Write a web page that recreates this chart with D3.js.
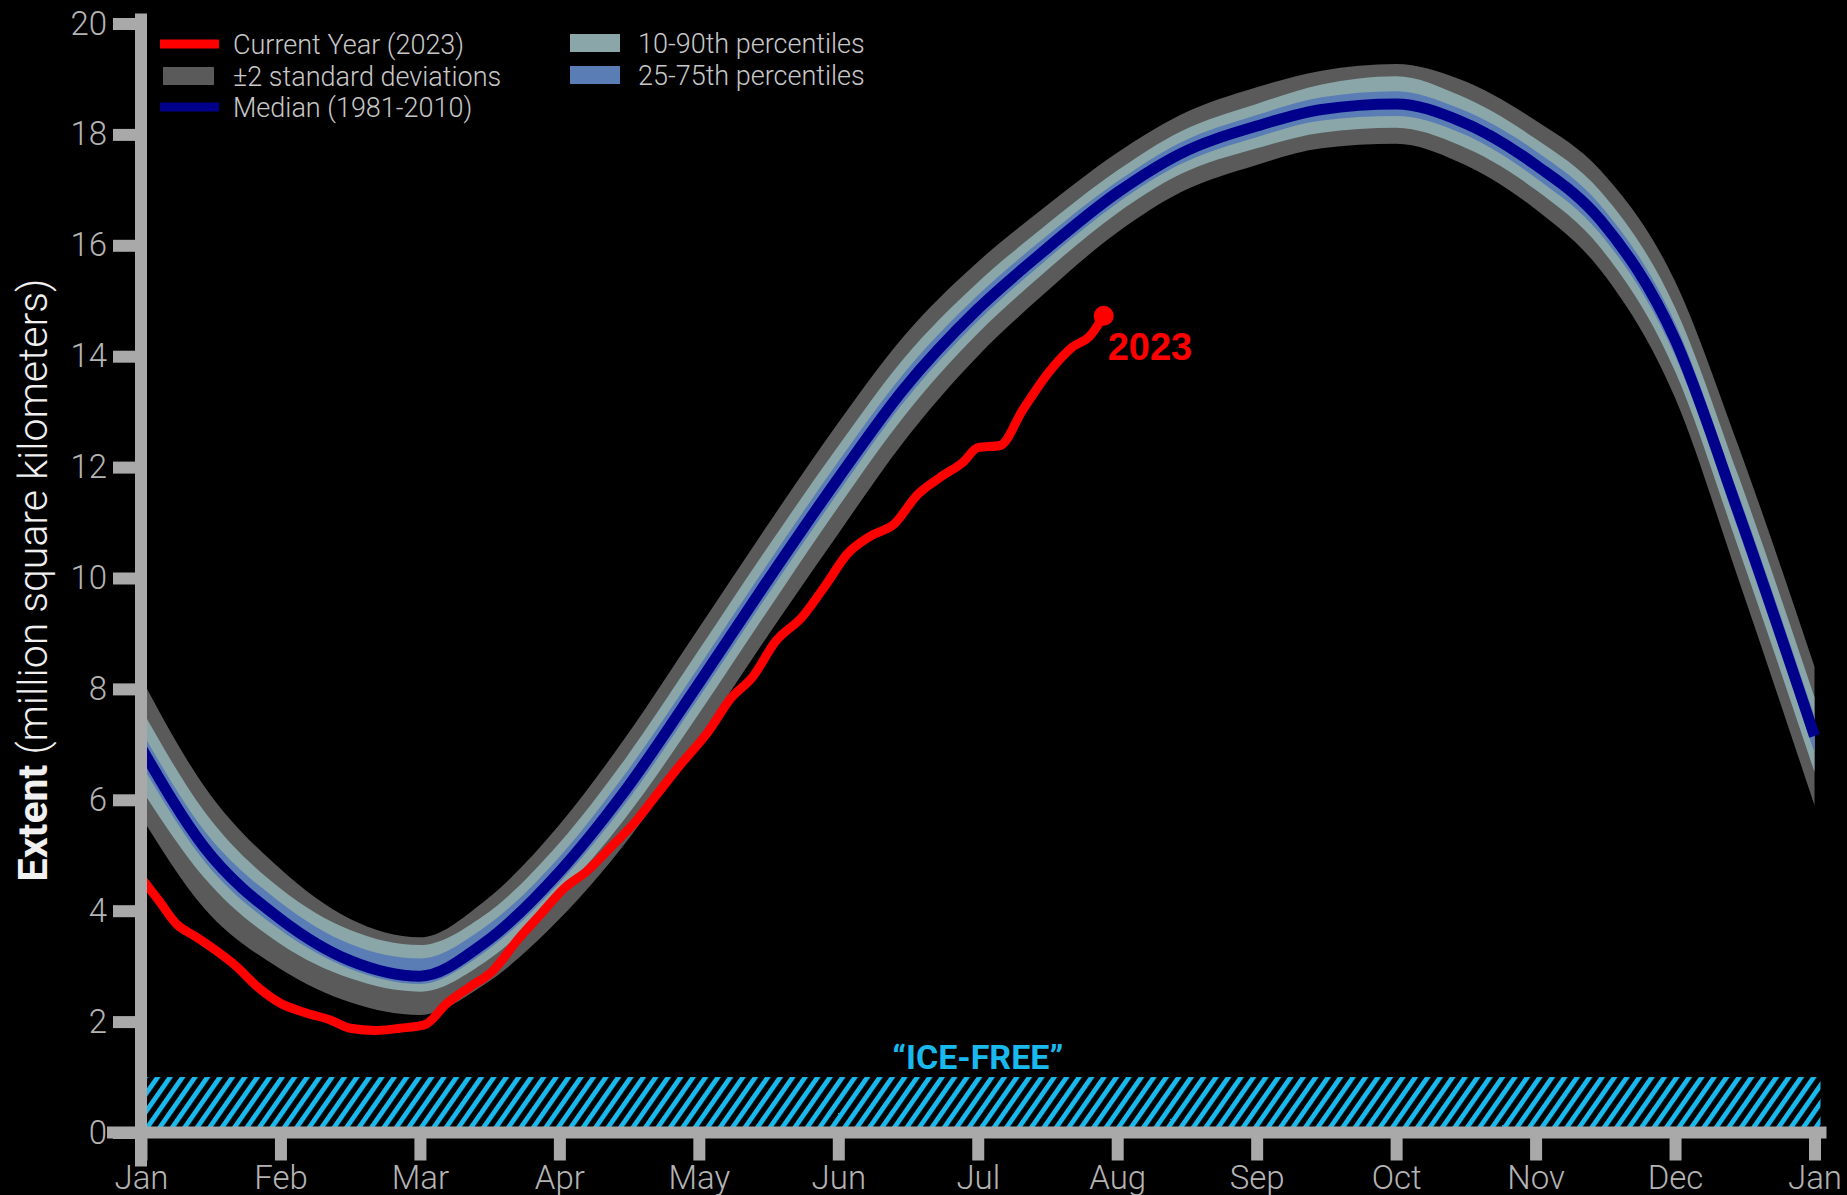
<!DOCTYPE html>
<html>
  <head>
    <meta charset="utf-8">
    <title>Sea Ice Extent</title>
    <script src="https://cdn.jsdelivr.net/npm/d3@7"></script>
    <style>
      body { margin: 0; background: #000; }
      .tick text { font-family: 'Roboto', sans-serif; font-weight: 300; fill: #b4b4b4; font-size: 33px; }
      .legend text { font-family: 'Roboto', sans-serif; font-weight: 300; fill: #c8c8c8; font-size: 27px; }
    </style>
  </head>
  <body>
    <script>

      // climatology sample dates (1981-2010)
      var climDates = ["2023-01-01", "2023-01-15", "2023-02-01", "2023-02-15", "2023-03-01", "2023-03-15",
                       "2023-04-01", "2023-04-15", "2023-05-01", "2023-05-15", "2023-06-01", "2023-06-15",
                       "2023-07-01", "2023-07-15", "2023-08-01", "2023-08-15", "2023-09-01", "2023-09-15",
                       "2023-10-01", "2023-10-15", "2023-11-01", "2023-11-15", "2023-12-01", "2023-12-15", "2024-01-01"];

      var median = [6.95, 5.15, 3.85, 3.1, 2.82, 3.4, 4.7, 6.15, 8.1, 9.8, 11.8, 13.4, 14.85, 15.85, 16.95, 17.65, 18.15, 18.45, 18.55, 18.25, 17.45, 16.45, 14.3, 11.2, 7.15];
      var sdHi   = [8.2, 6.25, 4.75, 3.85, 3.52, 4.15, 5.55, 7.1, 9.1, 10.8, 12.8, 14.35, 15.7, 16.63, 17.67, 18.35, 18.85, 19.15, 19.27, 19.0, 18.25, 17.35, 15.35, 12.4, 8.4];
      var sdLo   = [5.7, 4.05, 2.95, 2.35, 2.12, 2.65, 3.85, 5.2, 7.1, 8.8, 10.8, 12.45, 14.0, 15.07, 16.23, 16.95, 17.45, 17.75, 17.83, 17.5, 16.65, 15.55, 13.25, 10.0, 5.9];
      var p90    = [7.65, 5.8, 4.4, 3.65, 3.38, 3.9, 5.22, 6.72, 8.7, 10.4, 12.38, 13.95, 15.33, 16.29, 17.35, 18.05, 18.55, 18.9, 19.05, 18.71, 17.92, 16.97, 14.88, 11.86, 7.85];
      var p10    = [6.2, 4.6, 3.4, 2.78, 2.54, 3.05, 4.28, 5.65, 7.55, 9.25, 11.28, 12.9, 14.41, 15.45, 16.58, 17.28, 17.75, 18.03, 18.12, 17.81, 17.0, 15.95, 13.73, 10.56, 6.5];
      var p75    = [7.25, 5.45, 4.15, 3.4, 3.14, 3.68, 4.97, 6.45, 8.4, 10.1, 12.1, 13.68, 15.1, 16.08, 17.15, 17.85, 18.35, 18.67, 18.78, 18.47, 17.7, 16.72, 14.6, 11.53, 7.5];
      var p25    = [6.65, 4.9, 3.65, 2.95, 2.68, 3.23, 4.5, 5.91, 7.84, 9.54, 11.54, 13.16, 14.63, 15.65, 16.76, 17.46, 17.95, 18.25, 18.33, 18.04, 17.22, 16.2, 14.01, 10.88, 6.85];

      // 2023 extent
      var dates2023 = ["2023-01-01", "2023-01-05", "2023-01-09", "2023-01-13", "2023-01-17", "2023-01-22", "2023-01-27",
                       "2023-02-01", "2023-02-06", "2023-02-11", "2023-02-15", "2023-02-20", "2023-02-25",
                       "2023-03-02", "2023-03-07", "2023-03-12", "2023-03-17", "2023-03-23", "2023-03-28",
                       "2023-04-02", "2023-04-07", "2023-04-12", "2023-04-17", "2023-04-22", "2023-04-27",
                       "2023-05-03", "2023-05-08", "2023-05-13", "2023-05-18", "2023-05-24", "2023-05-29",
                       "2023-06-03", "2023-06-08", "2023-06-13", "2023-06-18", "2023-06-23", "2023-06-28",
                       "2023-07-01", "2023-07-06", "2023-07-11", "2023-07-17", "2023-07-22", "2023-07-26", "2023-07-29"];
      var ext2023  = [4.60, 4.18, 3.75, 3.54, 3.32, 3.01, 2.62, 2.33, 2.16, 2.03, 1.88, 1.84, 1.88, 1.94, 2.33, 2.62, 2.90, 3.50, 3.95, 4.40, 4.72, 5.14, 5.57, 6.10, 6.63, 7.22, 7.82, 8.22, 8.85, 9.30, 9.85, 10.44, 10.76, 10.97, 11.50, 11.82, 12.1, 12.35, 12.39, 13.03, 13.73, 14.16, 14.37, 14.73];

      var months = ["Jan", "Feb", "Mar", "Apr", "May", "Jun", "Jul", "Aug", "Sep", "Oct", "Nov", "Dec", "Jan"];
      var yTicks = [0, 2, 4, 6, 8, 10, 12, 14, 16, 18, 20];
      var iceFree = [0, 1];

      var legend1 = ["Current Year (2023)", "\u00b12 standard deviations", "Median (1981-2010)"];
      var legend2 = ["10-90th percentiles", "25-75th percentiles"];

      var width = 1847, height = 1195;
      var padL = 141, padR = 1814.5, padT = 23.5, padB = 1132.5;

      var c = {
        sd: "#5a5a5a", p1090: "#8aa6a8", p2575: "#5a7db6", median: "#00008b",
        red: "#ff0000", axis: "#a9a9a9", ice: "#19b9ee"
      };

      var svg = d3.select("body").append("svg")
        .attr("width", width)
        .attr("height", height)
        .style("background", "#000");

      var parse = d3.timeParse("%Y-%m-%d");

      // every month gets the same width on this chart
      function monthPos(s) {
        var d = parse(s);
        var m0 = d3.timeMonth.floor(d), m1 = d3.timeMonth.offset(m0, 1);
        return (d.getFullYear() - 2023) * 12 + d.getMonth() + (d - m0) / (m1 - m0);
      }

      var x = d3.scaleLinear()
        .domain([0, 12])
        .range([padL, padR]);

      var y = d3.scaleLinear()
        .domain([0, 20])
        .range([padB, padT]);

      // hatch pattern for the ice-free band
      var defs = svg.append("defs");
      var pat = defs.append("pattern")
        .attr("id", "hatch")
        .attr("patternUnits", "userSpaceOnUse")
        .attr("width", 10.2)
        .attr("height", 20)
        .attr("patternTransform", "rotate(35)");
      pat.append("rect")
        .attr("width", 4.8)
        .attr("height", 20)
        .attr("fill", c.ice);

      var clim = climDates.map(function(d, i) {
        return { m: monthPos(d), med: median[i], sdHi: sdHi[i], sdLo: sdLo[i],
                 p90: p90[i], p10: p10[i], p75: p75[i], p25: p25[i] };
      });

      function band(hi, lo) {
        return d3.area()
          .curve(d3.curveMonotoneX)
          .x(function(d) { return x(d.m); })
          .y0(function(d) { return y(d[lo]); })
          .y1(function(d) { return y(d[hi]); });
      }

      svg.append("path").datum(clim).attr("d", band("sdHi", "sdLo")).attr("fill", c.sd);
      svg.append("path").datum(clim).attr("d", band("p90", "p10")).attr("fill", c.p1090);
      svg.append("path").datum(clim).attr("d", band("p75", "p25")).attr("fill", c.p2575);

      svg.append("path").datum(clim)
        .attr("d", d3.line().curve(d3.curveMonotoneX)
          .x(function(d) { return x(d.m); })
          .y(function(d) { return y(d.med); }))
        .attr("fill", "none")
        .attr("stroke", c.median)
        .attr("stroke-width", 11);

      // ice-free band
      svg.append("rect")
        .attr("x", x(0) + 6)
        .attr("y", y(iceFree[1]))
        .attr("width", x(12) - x(0))
        .attr("height", y(iceFree[0]) - y(iceFree[1]))
        .attr("fill", "url(#hatch)");

      svg.append("text")
        .attr("x", x(6))
        .attr("y", y(iceFree[1]) - 8)
        .attr("text-anchor", "middle")
        .style("font-family", "'Liberation Sans Narrow', 'Roboto', sans-serif")
        .style("font-weight", "bold")
        .style("font-size", "34px")
        .style("fill", c.ice)
        .text("\u201cICE-FREE\u201d");

      // 2023 line
      var cur = dates2023.map(function(d, i) { return { m: monthPos(d), v: ext2023[i] }; });
      svg.append("path").datum(cur)
        .attr("d", d3.line().curve(d3.curveMonotoneX)
          .x(function(d) { return x(d.m); })
          .y(function(d) { return y(d.v); }))
        .attr("fill", "none")
        .attr("stroke", c.red)
        .attr("stroke-width", 9)
        .attr("stroke-linejoin", "round");

      var last = cur[cur.length - 1];
      svg.append("circle")
        .attr("cx", x(last.m))
        .attr("cy", y(last.v))
        .attr("r", 10)
        .attr("fill", c.red);

      svg.append("text")
        .attr("x", x(last.m) + 4)
        .attr("y", y(last.v) + 44)
        .style("font-family", "'Liberation Sans', Arial, sans-serif")
        .style("font-weight", "bold")
        .style("font-size", "38px")
        .style("fill", c.red)
        .text("2023");

      // axes
      var yAxis = d3.axisLeft(y)
        .tickValues(yTicks)
        .tickSizeInner(28)
        .tickSizeOuter(0)
        .tickPadding(6);

      var gy = svg.append("g")
        .attr("transform", "translate(" + padL + ",0)")
        .call(yAxis);

      var xAxis = d3.axisBottom(x)
        .tickValues(d3.range(13))
        .tickFormat(function(d) { return months[d]; })
        .tickSizeInner(28)
        .tickSizeOuter(0);

      var gx = svg.append("g")
        .attr("transform", "translate(0," + padB + ")")
        .call(xAxis);

      gx.selectAll(".tick text").attr("y", 56).attr("dy", 0);

      [gx, gy].forEach(function(g) {
        g.select(".domain").attr("stroke", c.axis).attr("stroke-width", 12).attr("stroke-linecap", "square");
        g.selectAll(".tick line").attr("stroke", c.axis).attr("stroke-width", 12);
      });
      gy.select(".domain").attr("d", "M0," + (padT - 4) + "V" + (padB + 28));
      gx.select(".domain").attr("d", "M" + (padL - 28) + ",0H" + (padR + 6));

      // y label
      var yl = svg.append("text")
        .attr("transform", "translate(47,580) rotate(-90)")
        .attr("text-anchor", "middle")
        .style("font-family", "'Roboto', sans-serif")
        .style("font-size", "41px")
        .style("fill", "#f0f0f0");
      yl.append("tspan").style("font-weight", "bold").text("Extent");
      yl.append("tspan").style("font-weight", 300).text(" (million square kilometers)");

      // legend
      var lg = svg.append("g").attr("class", "legend");
      var rowY = [44, 76, 107];
      lg.append("rect").attr("x", 160).attr("y", rowY[0] - 4.5).attr("width", 59).attr("height", 9).attr("fill", c.red);
      lg.append("rect").attr("x", 163).attr("y", rowY[1] - 9).attr("width", 51).attr("height", 18).attr("fill", c.sd);
      lg.append("rect").attr("x", 160).attr("y", rowY[2] - 4.5).attr("width", 59).attr("height", 9).attr("fill", c.median);
      lg.selectAll(".l1").data(legend1).enter().append("text")
        .attr("x", 233)
        .attr("y", function(d, i) { return rowY[i] + 10; })
        .text(function(d) { return d; });

      var rowY2 = [43, 75];
      var sw2 = [c.p1090, c.p2575];
      lg.selectAll(".s2").data(legend2).enter().append("rect")
        .attr("x", 570)
        .attr("y", function(d, i) { return rowY2[i] - 9; })
        .attr("width", 50)
        .attr("height", 18)
        .attr("fill", function(d, i) { return sw2[i]; });
      lg.selectAll(".l2").data(legend2).enter().append("text")
        .attr("x", 638)
        .attr("y", function(d, i) { return rowY2[i] + 10; })
        .text(function(d) { return d; });

    </script>
  </body>
</html>
